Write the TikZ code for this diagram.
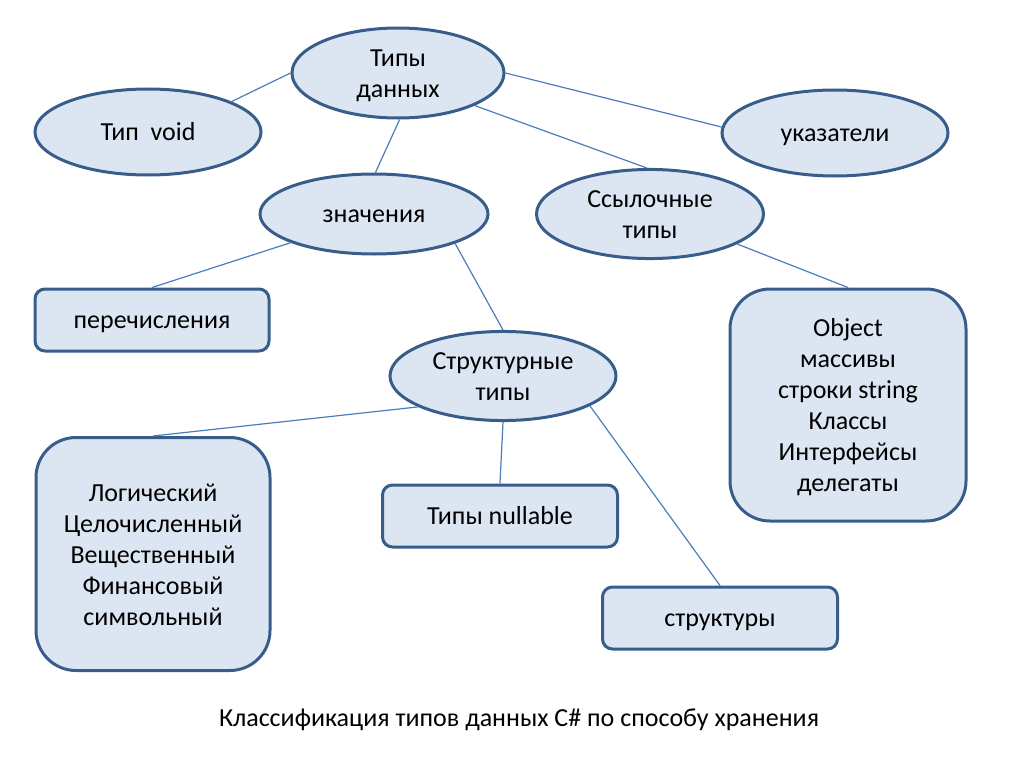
\documentclass[tikz,border=0pt]{standalone}
\usepackage{fontspec}
\setmainfont{Carlito}
\usetikzlibrary{shapes.geometric,positioning}
\colorlet{background}{white}
\definecolor{penColor}{HTML}{385D8A}
\definecolor{lineColor}{HTML}{4A7EBB}
\definecolor{fillColor}{HTML}{DCE6F2}
\tikzset{
  oval/.style={ellipse, draw=penColor, fill=fillColor, line width=2.25pt, inner sep=0pt},
  box/.style={rectangle, rounded corners=7.5pt, draw=penColor, fill=fillColor, line width=2.25pt, inner sep=0pt},
  bigbox/.style={box, rounded corners=30pt},
  oneline/.style={text height=18pt, text depth=5pt},
  lines/.style={align=center, text height=#1, text depth=5pt},
  link/.style={lineColor, line width=0.9pt}
}

\begin{document}
\begin{tikzpicture}[x=0.75pt,y=-0.75pt,font=\fontsize{19.5}{23.25}\selectfont]
				\useasboundingbox (0,0) rectangle (1024,767);
				% ellipses
				\node [oval, lines=42.25pt, minimum width=159pt, minimum height=67.5pt] (types) at (398,73) {Типы\\данных};
				\node [oval, oneline, minimum width=169.5pt, minimum height=64.5pt] (void) at (148,132) {Тип\ \ void};
				\node [oval, oneline, minimum width=169.5pt, minimum height=64.5pt] (pointers) at (835,133) {указатели};
				\node [oval, oneline, minimum width=171pt, minimum height=60pt] (values) at (374,214) {значения};
				\node [oval, lines=42.25pt, minimum width=170.25pt, minimum height=64.5pt] (ref) at (650,214) {Ссылочные\\типы};
				\node [oval, lines=42.25pt, minimum width=169.5pt, minimum height=57pt] (struct) at (503,376) {Структурные\\типы};
				% boxes
				\node [box, oneline, minimum width=175.5pt, minimum height=46.5pt] (enum) at (152,320) {перечисления};
				\node [bigbox, lines=135.25pt, minimum width=177pt, minimum height=174pt] (obj) at (848,405) {Object\\массивы\\строки string\\Классы\\Интерфейсы\\делегаты};
				\node [bigbox, lines=112pt, minimum width=175.5pt, minimum height=174.75pt] (logic) at (153,554) {Логический\\Целочисленный\\Вещественный\\Финансовый\\символьный};
				\node [box, oneline, minimum width=176.25pt, minimum height=46.5pt] (nullable) at (500,516) {Типы nullable};
				\node [box, oneline, minimum width=176.25pt, minimum height=46.5pt] (structs) at (720,618) {структуры};
				% links
				\draw [link] (types.180) -- (void.20);
				\draw [link] (types.0) -- (pointers.177);
				\draw [link] (types.-23) -- (ref.94);
				\draw [link] (types.-88) -- (values.88);
				\draw [link] (values.199) -- (enum.north);
				\draw [link] (values.-20) -- (struct.north);
				\draw [link] (ref.-19) -- (obj.north);
				\draw [link] (struct.200) -- (logic.north);
				\draw [link] (struct.south) -- (nullable.north);
				\draw [link] (struct.-19) -- (structs.north);
				\node [oneline] (caption) at (519,718) {Классификация типов данных C\# по способу хранения};
\end{tikzpicture}
\end{document}
